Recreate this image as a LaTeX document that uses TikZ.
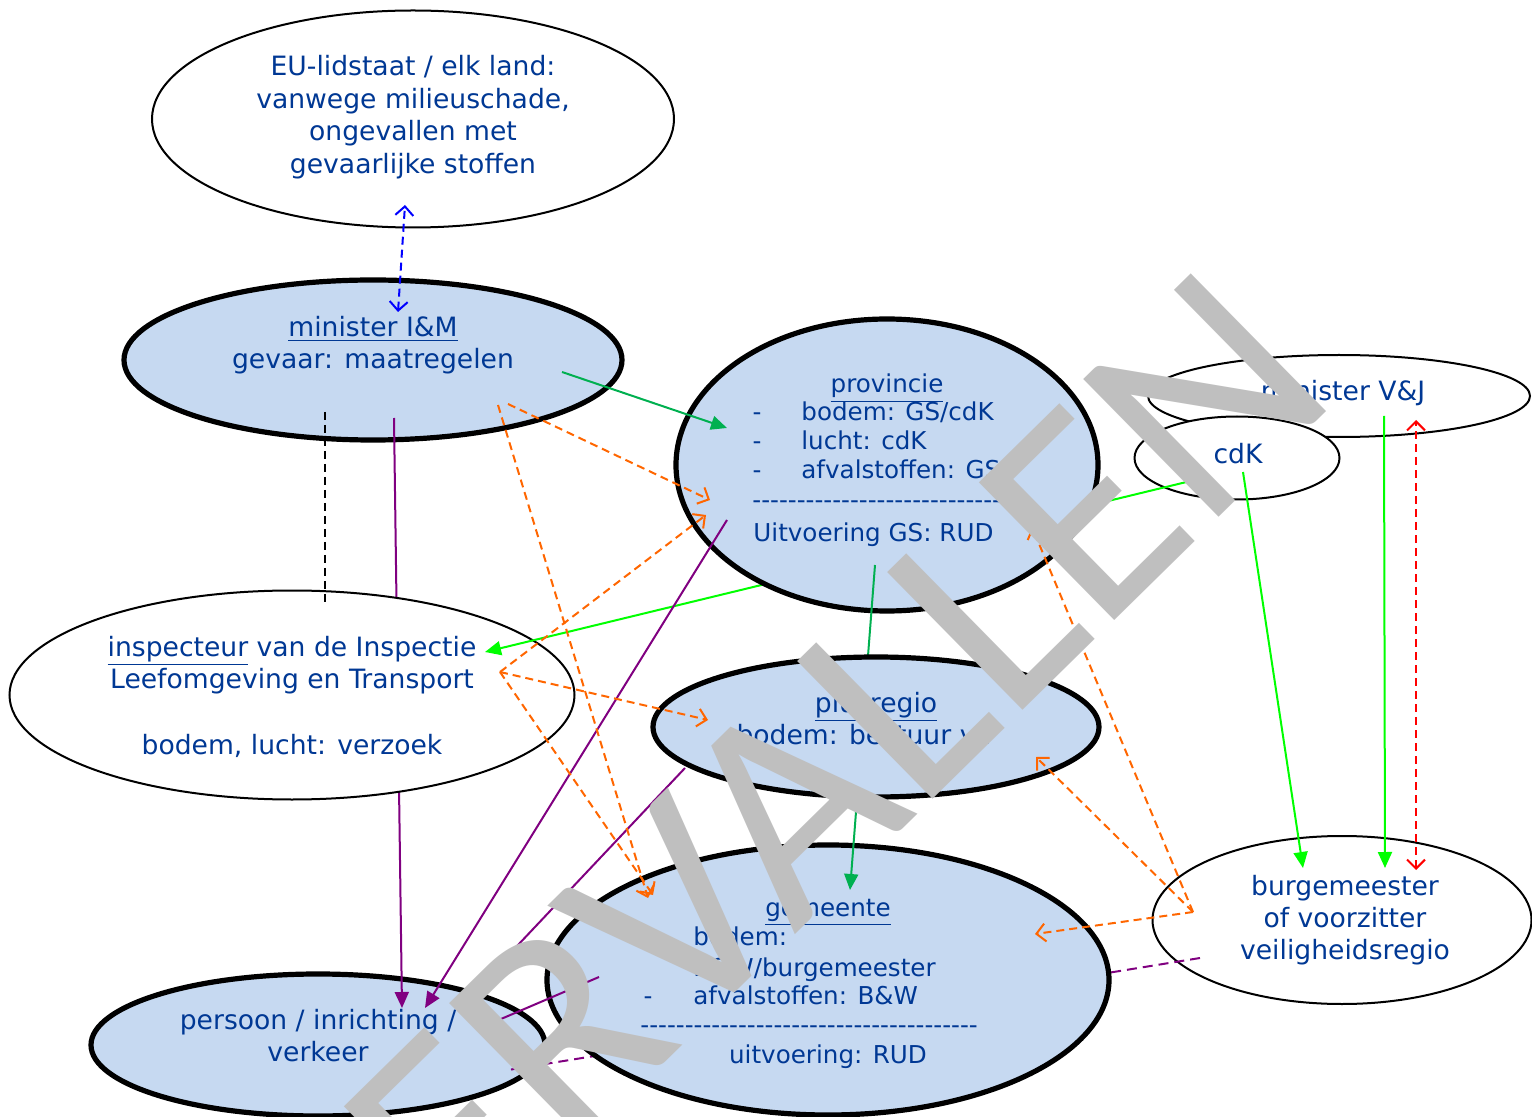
\documentclass[tikz,border=0pt]{standalone}
\usepackage{fontspec}
\setmainfont[Ligatures=TeXOff]{DejaVu Sans}
\newfontfamily\wmfont{Carlito}
\usetikzlibrary{shapes.geometric,arrows.meta}
\definecolor{tb}{RGB}{0,56,148}
\definecolor{lb}{HTML}{C6D9F1}
\definecolor{dgreen}{HTML}{00B050}
\definecolor{bgreen}{HTML}{00FF00}
\definecolor{purp}{RGB}{128,0,128}
\definecolor{orng}{HTML}{FF6600}
\definecolor{wmgray}{HTML}{BFBFBF}
\begin{document}
\begin{tikzpicture}[x=0.5pt,y=-0.5pt,
  ell/.style={ellipse, draw=black, inner sep=0pt, outer sep=0pt},
  thinell/.style={ell, line width=1pt, fill=white},
  thickell/.style={ell, line width=2.6pt, fill=lb},
  txt/.style={text=tb, font=\fontsize{13.3}{16}\selectfont, inner sep=0pt, anchor=base},
  stxt/.style={txt, font=\fontsize{12.3}{15}\selectfont},
  conn/.style={line width=1pt},
  farrow/.style={conn, -{Triangle[length=8pt,width=7pt]}},
  dsh/.style={dash pattern=on 4pt off 2.5pt},
  oarrow/.style={conn, orng, dsh, -{Straight Barb[length=4.5pt,width=9pt]}},
  darrow/.style={conn, dsh, {Straight Barb[length=4.5pt,width=9pt]}-{Straight Barb[length=4.5pt,width=9pt]}}
]
\useasboundingbox (0,0) rectangle (1532,1117);
\clip (0,0) rectangle (1532,1117);

% connector end points
\coordinate (pA) at (1200,958);  \coordinate (pB) at (508,1070);
\coordinate (mA) at (394,418);   \coordinate (mB) at (402,1008);
\coordinate (kA) at (325,412);   \coordinate (kB) at (325,605);
\coordinate (gA) at (1203,478);  \coordinate (gB) at (485,652);
\coordinate (hA) at (875,565);   \coordinate (hB) at (850,890);
\coordinate (uA) at (398,312);   \coordinate (uB) at (405,205);
\coordinate (dA) at (562,372);   \coordinate (dB) at (727,428);
\coordinate (qA) at (727,520);   \coordinate (qB) at (425,1008);
\coordinate (rA) at (685,768);   \coordinate (rB) at (468,998);
\coordinate (sA) at (599,977);   \coordinate (sB) at (480,1028);
\coordinate (oM1) at (498,405);  \coordinate (oM2) at (508,404);
\coordinate (oI) at (500,672);   \coordinate (oB) at (1193,912);
\coordinate (o1) at (648,898);   \coordinate (o2) at (710,500);
\coordinate (o3) at (706,515);   \coordinate (o4) at (708,720);
\coordinate (o5) at (653,895);   \coordinate (o6) at (1032,527);
\coordinate (o7) at (1036,757);  \coordinate (o8) at (1035,934);
\coordinate (vA) at (1243,472);  \coordinate (vB) at (1303,868);
\coordinate (wA) at (1384,416);  \coordinate (wB) at (1385,868);
\coordinate (xA) at (1416,420);  \coordinate (xB) at (1416,870);

% ellipses (first group)
\node[thinell, minimum width=261pt, minimum height=108.5pt] (eu) at (413,119) {};
\node[txt] (eu1) at (413,76) {EU-lidstaat / elk land:};
\node[txt] (eu2) at (413,109) {vanwege milieuschade,};
\node[txt] (eu3) at (413,141) {ongevallen met};
\node[txt] (eu4) at (413,174) {gevaarlijke stoffen};

\node[thickell, minimum width=249pt, minimum height=80pt] (minIM) at (373,360) {};
\node[txt] (mi1) at (373,337) {\underline{minister I\&M}};
\node[txt] (mi2) at (373,369) {gevaar: maatregelen};

\node[thinell, minimum width=191pt, minimum height=41pt] (vj) at (1339,396) {};
\node[txt] (vj1) at (1343,401) {minister V\&J};
\node[thinell, minimum width=102.5pt, minimum height=41.5pt] (cdk) at (1237,458) {};
\node[txt] (cdk1) at (1238,464) {cdK};

\node[thickell, minimum width=227pt, minimum height=71pt] (pers) at (318,1045) {};
\node[txt] (pe1) at (318,1029) {persoon / inrichting /};
\node[txt] (pe2) at (318,1061) {verkeer};

\node[thinell, minimum width=189.5pt, minimum height=84pt] (burg) at (1342,920) {};
\node[txt] (bu1) at (1345,895) {burgemeester};
\node[txt] (bu2) at (1345,927) {of voorzitter};
\node[txt] (bu3) at (1345,959) {veiligheidsregio};

\draw[conn, purp, dash pattern=on 5pt off 3pt] (pA) -- (pB);

\node[thickell, minimum width=281pt, minimum height=135pt] (gem) at (828,980) {};
\node[stxt] (ge0) at (828,916) {\underline{gemeente}};
\node[stxt] (ged1) at (648,945) {-};
\node[stxt, anchor=base west] (ge1) at (693,945) {bodem:};
\node[stxt, anchor=base west] (ge2) at (693,976) {B\&W/burgemeester};
\node[stxt] (ged2) at (648,1004) {-};
\node[stxt, anchor=base west] (ge3) at (693,1004) {afvalstoffen: B\&W};
\node[stxt, anchor=base west] (ge4) at (640,1033) {--------------------------------------};
\node[stxt] (ge5) at (828,1063) {uitvoering: RUD};

\draw[farrow, purp] (mA) -- (mB);

\node[thinell, minimum width=282.5pt, minimum height=104.5pt] (insp) at (292,695) {};
\node[txt] (in1) at (292,656) {\underline{inspecteur} van de Inspectie};
\node[txt] (in2) at (292,688) {Leefomgeving en Transport};
\node[txt] (in3) at (292,754) {bodem, lucht: verzoek};

\draw[conn, black, dsh] (kA) -- (kB);
\draw[farrow, bgreen] (gA) -- (gB);

\node[thickell, minimum width=211pt, minimum height=146pt] (prov) at (887,465) {};
\node[stxt] (pr0) at (887,393) {\underline{provincie}};
\node[stxt] (prd1) at (757,421) {-};
\node[stxt, anchor=base west] (pr1) at (801,421) {bodem: GS/cdK};
\node[stxt] (prd2) at (757,450) {-};
\node[stxt, anchor=base west] (pr2) at (801,450) {lucht: cdK};
\node[stxt] (prd3) at (757,479) {-};
\node[stxt, anchor=base west] (pr3) at (801,479) {afvalstoffen: GS};
\node[stxt, anchor=base west] (pr4) at (752,509) {-----------------------------};
\node[stxt, anchor=base west] (pr5) at (753,542) {Uitvoering GS: RUD};

\draw[farrow, dgreen] (hA) -- (hB);

\node[thickell, minimum width=223pt, minimum height=70pt] (plus) at (876,727) {};
\node[txt] (pl1) at (876,712) {\underline{plusregio}};
\node[txt] (pl2) at (863,744) {bodem: bestuur vz};

% remaining connectors
\draw[darrow, blue] (uA) -- (uB);
\draw[farrow, dgreen] (dA) -- (dB);
\draw[farrow, purp] (qA) -- (qB);
\draw[farrow, purp] (rA) -- (rB);
\draw[farrow, purp] (sA) -- (sB);
\draw[oarrow] (oM1) -- (o1);
\draw[oarrow] (oM2) -- (o2);
\draw[oarrow] (oI) -- (o3);
\draw[oarrow] (oI) -- (o4);
\draw[oarrow] (oI) -- (o5);
\draw[oarrow] (oB) -- (o6);
\draw[oarrow] (oB) -- (o7);
\draw[oarrow] (oB) -- (o8);
\draw[farrow, bgreen] (vA) -- (vB);
\draw[farrow, bgreen] (wA) -- (wB);
\draw[darrow, red] (xB) -- (xA);

% watermark
\node[rotate=44.5, text=wmgray, inner sep=0pt, font=\wmfont\fontsize{150.5pt}{155pt}\selectfont] (wm) at (775,819) {VERVALLEN};
\end{tikzpicture}
\end{document}
